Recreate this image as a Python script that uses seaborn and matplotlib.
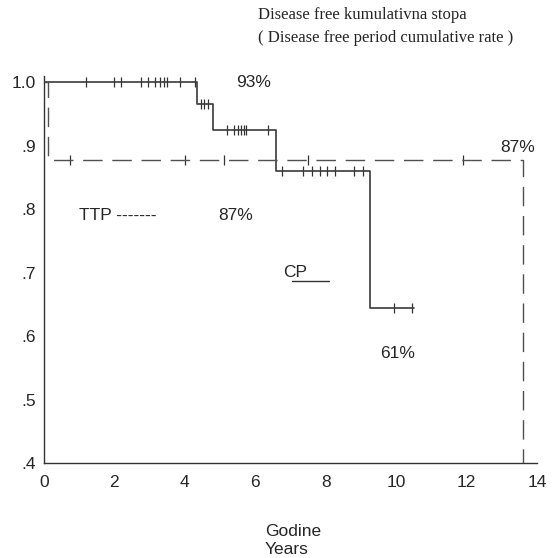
import numpy as np
import pandas as pd
import matplotlib
matplotlib.use("Agg")
import matplotlib.pyplot as plt
import seaborn as sns

# ---- data ----
cp_times = [0.0, 4.35, 4.8, 6.6, 9.25, 10.5]
cp_surv = [1.0, 0.966, 0.925, 0.861, 0.644, 0.644]
cp_censor = [1.2, 2.0, 2.2, 2.75, 2.95, 3.15, 3.3, 3.4, 3.5, 3.85, 4.3,
             4.45, 4.55, 4.65,
             5.2, 5.4, 5.5, 5.6, 5.67, 5.75, 6.35,
             6.75, 7.35, 7.6, 7.85, 8.05, 8.25, 8.8, 9.05,
             9.95, 10.45]

ttp_times = [0.0, 0.1, 13.6, 13.6]
ttp_surv = [1.0, 0.877, 0.877, 0.4]
ttp_censor = [0.75, 4.0, 5.1, 7.5, 11.9]

x_ticks = [0, 2, 4, 6, 8, 10, 12, 14]
y_ticks = [0.4, 0.5, 0.6, 0.7, 0.8, 0.9, 1.0]
y_tick_labels = [".4", ".5", ".6", ".7", ".8", ".9", "1.0"]


def step_value(times, surv, t):
    idx = np.searchsorted(times, t, side="right") - 1
    return surv[idx]


sns.set_style("white")
plt.rcParams["font.family"] = ["Liberation Sans", "DejaVu Sans"]
FS = 12.5

fig = plt.figure(figsize=(5.59, 5.58), dpi=100)
ax = fig.add_axes([44 / 559, (558 - 463) / 558, (537 - 44) / 559, (463 - 76) / 558])

cp_df = pd.DataFrame({"t": cp_times, "s": cp_surv})
ttp_df = pd.DataFrame({"t": ttp_times, "s": ttp_surv})

sns.lineplot(data=cp_df, x="t", y="s", drawstyle="steps-post", color="#3a3a3a",
             linewidth=1.2, ax=ax, estimator=None, sort=False)
sns.lineplot(data=ttp_df, x="t", y="s", drawstyle="steps-post", color="#505050",
             linewidth=1.0, ax=ax, estimator=None, sort=False)
ax.lines[-1].set_dashes([14, 7])

cp_c = pd.DataFrame({"t": cp_censor,
                     "s": [step_value(np.array(cp_times[:-1]), cp_surv[:-1], t) for t in cp_censor]})
ttp_c = pd.DataFrame({"t": ttp_censor,
                      "s": [step_value(np.array(ttp_times[:2]), ttp_surv[:2], t) for t in ttp_censor]})
sns.scatterplot(data=cp_c, x="t", y="s", marker="|", s=45, color="#333333",
                linewidth=0.9, ax=ax)
sns.scatterplot(data=ttp_c, x="t", y="s", marker="|", s=45, color="#333333",
                linewidth=0.9, ax=ax)

ax.set_xlim(0, 14)
ax.set_ylim(0.4, 1.01)
ax.set_xticks(x_ticks)
ax.set_xticklabels([str(v) for v in x_ticks], fontsize=FS)
ax.set_yticks(y_ticks)
ax.set_yticklabels(y_tick_labels, fontsize=FS)
ax.tick_params(axis="both", direction="out", length=2.5, width=3, color="black", pad=3)
ax.tick_params(axis="x", pad=6)

for side in ["top", "right"]:
    ax.spines[side].set_visible(False)
for side in ["left", "bottom"]:
    ax.spines[side].set_color("#333333")
    ax.spines[side].set_linewidth(1.0)

ax.set_xlabel("")
ax.set_ylabel("")

# annotations
ax.text(5.45, 1.0, "93%", fontsize=FS, va="center", ha="left")
ax.text(12.95, 0.897, "87%", fontsize=FS, va="center", ha="left")
ax.text(1.0, 0.79, "TTP -------", fontsize=FS, va="center", ha="left")
ax.text(4.95, 0.79, "87%", fontsize=FS, va="center", ha="left")
ax.text(6.8, 0.70, "CP", fontsize=FS, va="center", ha="left")
ax.plot([7.05, 8.1], [0.687, 0.687], color="#333333", linewidth=1.0)
ax.text(9.55, 0.573, "61%", fontsize=FS, va="center", ha="left")

fig.text(265 / 559, 1 - 532 / 558, "Godine", fontsize=FS, va="center", ha="left")
fig.text(265 / 559, 1 - 550 / 558, "Years", fontsize=FS, va="center", ha="left")

fig.text(258 / 559, 1 - 15 / 558, "Disease free kumulativna stopa", fontsize=12,
         family=["Liberation Serif", "DejaVu Serif"], va="center", ha="left")
fig.text(258 / 559, 1 - 38 / 558, "( Disease free period cumulative rate )", fontsize=12,
         family=["Liberation Serif", "DejaVu Serif"], va="center", ha="left")

fig.savefig("out.png", dpi=100)
